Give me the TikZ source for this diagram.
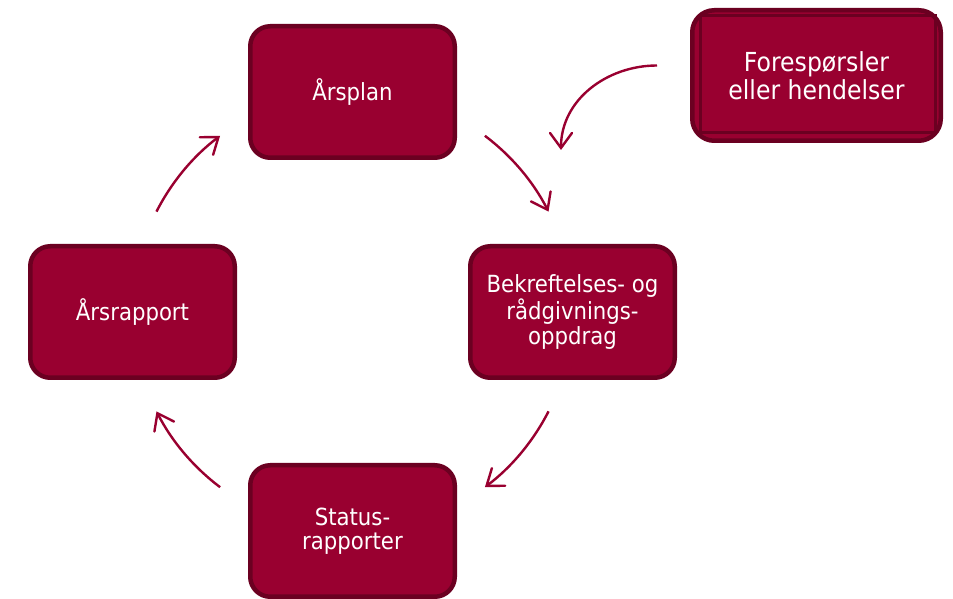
\documentclass[tikz,border=0pt]{standalone}
\usepackage{fontspec}
\setmainfont{DejaVu Sans}[FakeStretch=0.9]
\usetikzlibrary{arrows.meta,calc}
\definecolor{vin}{HTML}{990030}
\definecolor{vinmork}{HTML}{6B0021}

\begin{document}
\begin{tikzpicture}[x=1pt, y=1pt,
    every node/.style={text=white, align=center},
    boks/.style={draw=vinmork, line width=4.5pt, fill=vin, rounded corners=20pt,
      minimum width=204.5pt, minimum height=131.5pt,
      font=\fontsize{23.6}{24.5}\selectfont},
    flow/.style={draw=vin, line width=2.4pt,
      -{Straight Barb[length=15pt, width=22pt, line cap=round]}}]
  \useasboundingbox (0,0) rectangle (953,599);
  % the four boxes of the cycle
  \node[boks] (plan) at (352.5,507) {Årsplan};
  \node[boks] (oppdrag) at (572.5,287) {Bekreftelses- og\\rådgivnings-\\oppdrag};
  \node[boks] (status) at (352.5,68) {Status-\\rapporter};
  \node[boks] (rapport) at (132.5,287) {Årsrapport};
  % the box outside the cycle
  \node[boks, minimum width=248.5pt, minimum height=130.5pt, rounded corners=22pt,
    font=\fontsize{26.2}{28}\selectfont] (foresp) at (816.5,523.5)
    {Forespørsler\\eller hendelser};
  \draw[vinmork, line width=3pt] ([shift={(10,-8)}]foresp.north west)
    rectangle ([shift={(-8,10)}]foresp.south east);
  % arrows round the cycle
  \coordinate (hub) at ($(plan)!0.5!(status)$);
  \draw[flow] ($(hub)+(53:220)$) arc[start angle=53, end angle=27, radius=220];
  \draw[flow] ($(hub)+(-27:220)$) arc[start angle=-27, end angle=-53, radius=220];
  \draw[flow] ($(hub)+(233:220)$) arc[start angle=233, end angle=207, radius=220];
  \draw[flow] ($(hub)+(153:220)$) arc[start angle=153, end angle=127, radius=220];
  \coordinate (inn) at (561,449);
  \draw[flow] ([shift={(-33,10)}]foresp.west) to[out=180, in=90] (inn);
\end{tikzpicture}
\end{document}
